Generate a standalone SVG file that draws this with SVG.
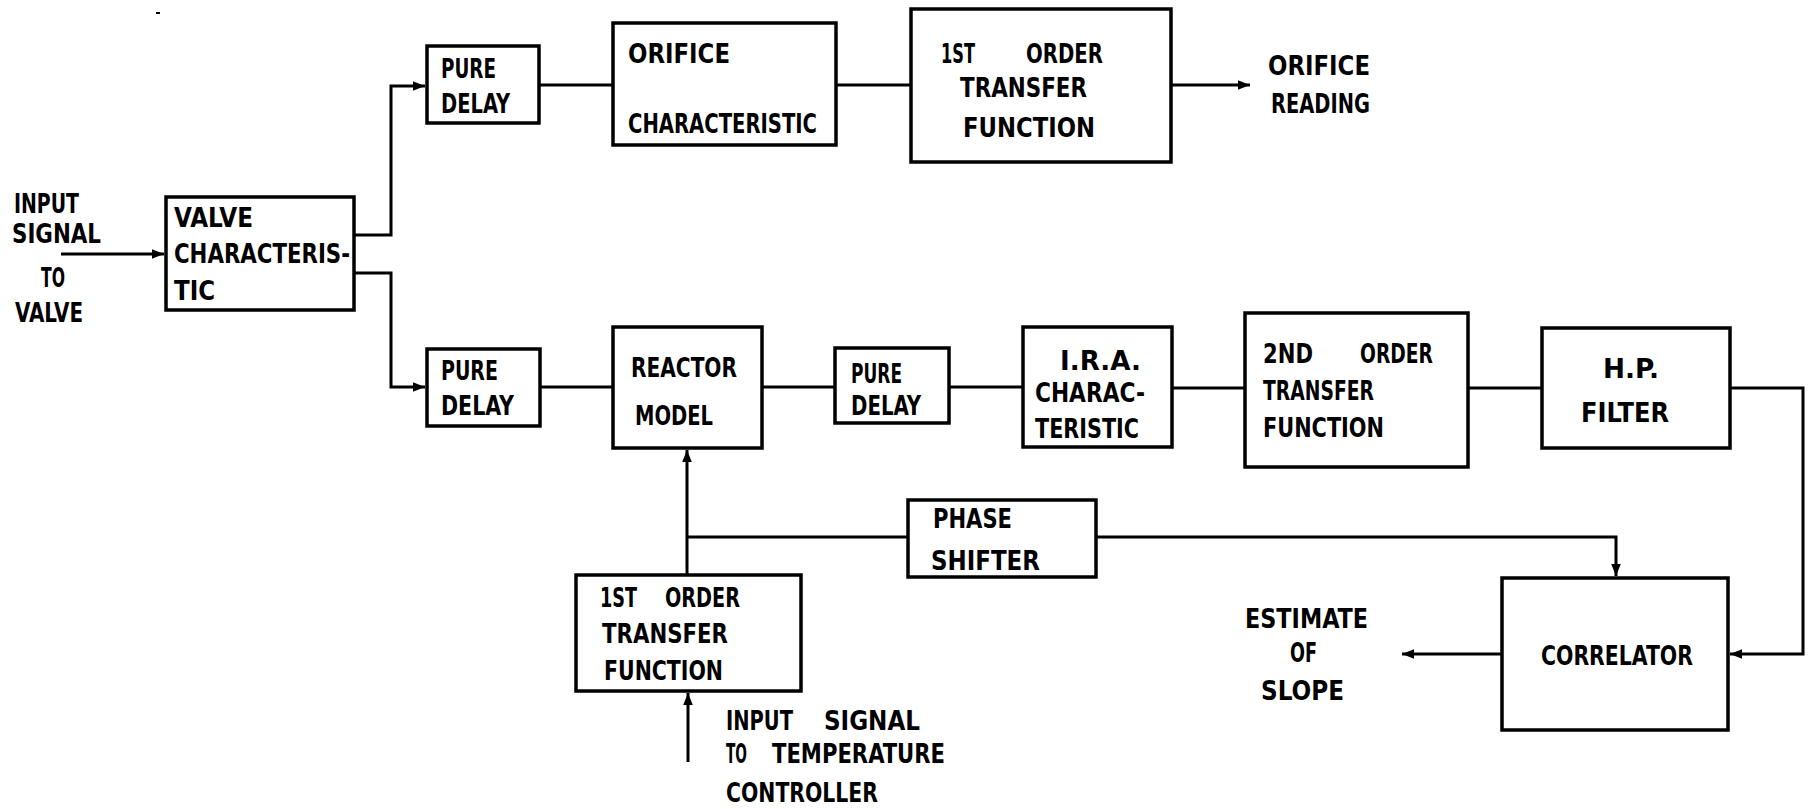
<svg xmlns="http://www.w3.org/2000/svg" width="1813" height="809" viewBox="0 0 1813 809">
<style>
.box{fill:#fff;stroke:#000;stroke-width:3.5}
.ln{fill:none;stroke:#000;stroke-width:3}
text{font-family:"DejaVu Sans Condensed","Liberation Sans",Arial,sans-serif;font-weight:bold;font-size:27px;fill:#000}
</style>
<defs>
<marker id="ar" viewBox="0 0 10 10" refX="10" refY="5" markerWidth="4" markerHeight="4" orient="auto" markerUnits="strokeWidth">
<path d="M0,1 L10,5 L0,9 z" fill="#000"/>
</marker>
</defs>
<rect width="1813" height="809" fill="#fff"/>
<line x1="156" y1="13" x2="160" y2="13" stroke="#000" stroke-width="2"/>

<g id="connectors">
<path class="ln" d="M61,254 H164" marker-end="url(#ar)"/>
<path class="ln" d="M354,235 H391 V86 H425" marker-end="url(#ar)"/>
<path class="ln" d="M354,273 H391 V387 H425" marker-end="url(#ar)"/>
<path class="ln" d="M539,85 H613"/>
<path class="ln" d="M836,85 H911"/>
<path class="ln" d="M1171,85 H1250" marker-end="url(#ar)"/>
<path class="ln" d="M540,387 H613"/>
<path class="ln" d="M762,387 H835"/>
<path class="ln" d="M949,387 H1023"/>
<path class="ln" d="M1172,388 H1245"/>
<path class="ln" d="M1468,388 H1542"/>
<path class="ln" d="M1730,388 H1803 V654 H1730" marker-end="url(#ar)"/>
<path class="ln" d="M687,575 V450" marker-end="url(#ar)"/>
<path class="ln" d="M687,537 H908"/>
<path class="ln" d="M1096,537 H1616 V576" marker-end="url(#ar)"/>
<path class="ln" d="M1502,654 H1402" marker-end="url(#ar)"/>
<path class="ln" d="M688,762 V693" marker-end="url(#ar)"/>
</g>

<g id="input-label">
<text x="14" y="213" textLength="65" lengthAdjust="spacingAndGlyphs">INPUT</text>
<text x="12" y="243" textLength="89" lengthAdjust="spacingAndGlyphs">SIGNAL</text>
<text x="41" y="287" textLength="24" lengthAdjust="spacingAndGlyphs">TO</text>
<text x="15" y="322" textLength="68" lengthAdjust="spacingAndGlyphs">VALVE</text>
</g>

<g id="valve">
<rect class="box" x="166" y="197" width="188" height="113"/>
<text x="174" y="227" textLength="79" lengthAdjust="spacingAndGlyphs">VALVE</text>
<text x="174" y="263" textLength="176" lengthAdjust="spacingAndGlyphs">CHARACTERIS-</text>
<text x="174" y="300" textLength="41" lengthAdjust="spacingAndGlyphs">TIC</text>
</g>

<g id="pure-delay-top">
<rect class="box" x="427" y="46" width="112" height="77"/>
<text x="441" y="78" textLength="55" lengthAdjust="spacingAndGlyphs">PURE</text>
<text x="441" y="113" textLength="69" lengthAdjust="spacingAndGlyphs">DELAY</text>
</g>

<g id="orifice-char">
<rect class="box" x="613" y="23" width="223" height="122"/>
<text x="628" y="63" textLength="102" lengthAdjust="spacingAndGlyphs">ORIFICE</text>
<text x="628" y="133" textLength="189" lengthAdjust="spacingAndGlyphs">CHARACTERISTIC</text>
</g>

<g id="first-order-top">
<rect class="box" x="911" y="9" width="260" height="153"/>
<text x="941" y="63" textLength="34" lengthAdjust="spacingAndGlyphs">1ST</text>
<text x="1026" y="63" textLength="77" lengthAdjust="spacingAndGlyphs">ORDER</text>
<text x="960" y="97" textLength="127" lengthAdjust="spacingAndGlyphs">TRANSFER</text>
<text x="963" y="137" textLength="132" lengthAdjust="spacingAndGlyphs">FUNCTION</text>
</g>

<g id="orifice-reading">
<text x="1268" y="75" textLength="102" lengthAdjust="spacingAndGlyphs">ORIFICE</text>
<text x="1271" y="113" textLength="99" lengthAdjust="spacingAndGlyphs">READING</text>
</g>

<g id="pure-delay-bottom">
<rect class="box" x="427" y="349" width="113" height="77"/>
<text x="441" y="380" textLength="57" lengthAdjust="spacingAndGlyphs">PURE</text>
<text x="441" y="415" textLength="73" lengthAdjust="spacingAndGlyphs">DELAY</text>
</g>

<g id="reactor-model">
<rect class="box" x="613" y="327" width="149" height="121"/>
<text x="631" y="377" textLength="106" lengthAdjust="spacingAndGlyphs">REACTOR</text>
<text x="635" y="425" textLength="78" lengthAdjust="spacingAndGlyphs">MODEL</text>
</g>

<g id="pure-delay-2">
<rect class="box" x="835" y="348" width="114" height="75"/>
<text x="851" y="383" textLength="51" lengthAdjust="spacingAndGlyphs">PURE</text>
<text x="851" y="415" textLength="70" lengthAdjust="spacingAndGlyphs">DELAY</text>
</g>

<g id="ira-char">
<rect class="box" x="1023" y="327" width="149" height="120"/>
<text x="1060" y="370" textLength="81" lengthAdjust="spacingAndGlyphs">I.R.A.</text>
<text x="1035" y="402" textLength="110" lengthAdjust="spacingAndGlyphs">CHARAC-</text>
<text x="1035" y="438" textLength="104" lengthAdjust="spacingAndGlyphs">TERISTIC</text>
</g>

<g id="second-order">
<rect class="box" x="1245" y="313" width="223" height="154"/>
<text x="1263" y="363" textLength="50" lengthAdjust="spacingAndGlyphs">2ND</text>
<text x="1360" y="363" textLength="73" lengthAdjust="spacingAndGlyphs">ORDER</text>
<text x="1263" y="400" textLength="111" lengthAdjust="spacingAndGlyphs">TRANSFER</text>
<text x="1263" y="437" textLength="121" lengthAdjust="spacingAndGlyphs">FUNCTION</text>
</g>

<g id="hp-filter">
<rect class="box" x="1542" y="328" width="188" height="120"/>
<text x="1603" y="378" textLength="56" lengthAdjust="spacingAndGlyphs">H.P.</text>
<text x="1581" y="422" textLength="88" lengthAdjust="spacingAndGlyphs">FILTER</text>
</g>

<g id="phase-shifter">
<rect class="box" x="908" y="500" width="188" height="77"/>
<text x="933" y="528" textLength="79" lengthAdjust="spacingAndGlyphs">PHASE</text>
<text x="931" y="570" textLength="109" lengthAdjust="spacingAndGlyphs">SHIFTER</text>
</g>

<g id="first-order-bottom">
<rect class="box" x="576" y="575" width="225" height="116"/>
<text x="600" y="607" textLength="37" lengthAdjust="spacingAndGlyphs">1ST</text>
<text x="665" y="607" textLength="75" lengthAdjust="spacingAndGlyphs">ORDER</text>
<text x="602" y="643" textLength="126" lengthAdjust="spacingAndGlyphs">TRANSFER</text>
<text x="604" y="680" textLength="119" lengthAdjust="spacingAndGlyphs">FUNCTION</text>
</g>

<g id="temp-input-label">
<text x="726" y="730" textLength="67" lengthAdjust="spacingAndGlyphs">INPUT</text>
<text x="824" y="730" textLength="96" lengthAdjust="spacingAndGlyphs">SIGNAL</text>
<text x="726" y="763" textLength="21" lengthAdjust="spacingAndGlyphs">TO</text>
<text x="772" y="763" textLength="173" lengthAdjust="spacingAndGlyphs">TEMPERATURE</text>
<text x="726" y="802" textLength="152" lengthAdjust="spacingAndGlyphs">CONTROLLER</text>
</g>

<g id="correlator">
<rect class="box" x="1502" y="578" width="226" height="152"/>
<text x="1541" y="665" textLength="152" lengthAdjust="spacingAndGlyphs">CORRELATOR</text>
</g>

<g id="estimate-label">
<text x="1245" y="628" textLength="123" lengthAdjust="spacingAndGlyphs">ESTIMATE</text>
<text x="1290" y="662" textLength="27" lengthAdjust="spacingAndGlyphs">OF</text>
<text x="1261" y="700" textLength="83" lengthAdjust="spacingAndGlyphs">SLOPE</text>
</g>
</svg>
